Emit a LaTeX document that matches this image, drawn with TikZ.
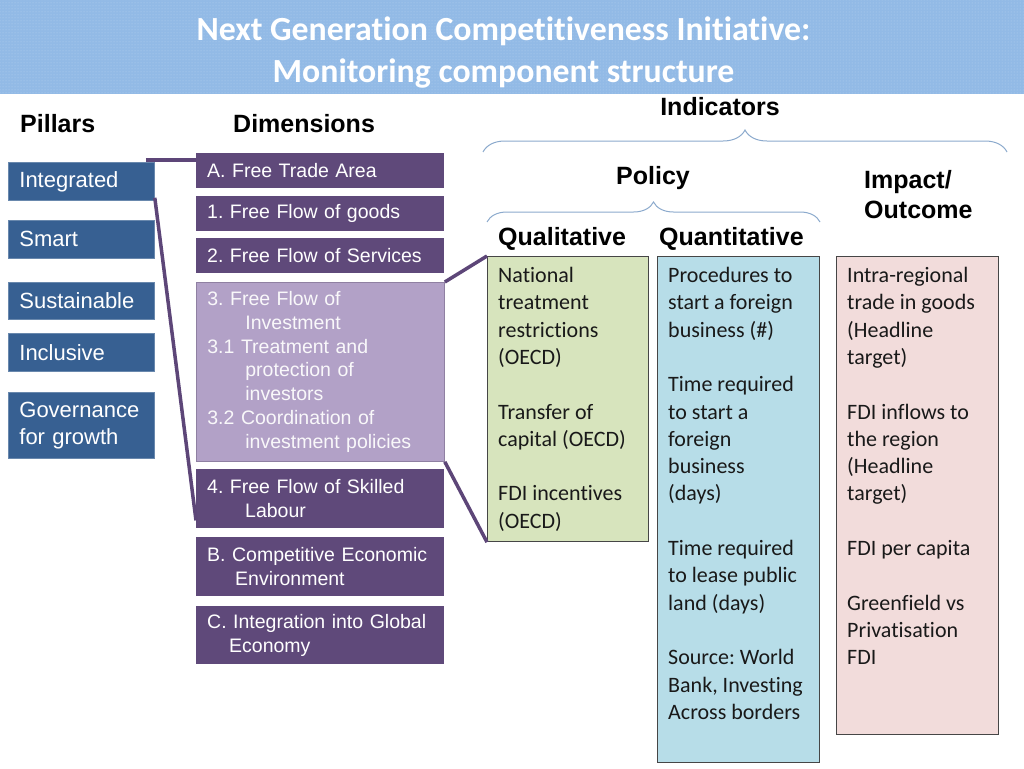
\documentclass[tikz,border=0pt]{standalone}
\usepackage{fontspec}
\setmainfont{Liberation Sans}
\newfontfamily\calibri[Ligatures=NoCommon]{Carlito}
\definecolor{BannerBlue}{RGB}{146,186,230}
\definecolor{PillarBlue}{RGB}{55,96,146}
\definecolor{DimPurple}{RGB}{95,73,122}
\definecolor{DimLilac}{RGB}{178,161,199}
\definecolor{LinkPurple}{RGB}{93,70,120}
\definecolor{QualGreen}{RGB}{215,228,189}
\definecolor{QuantBlue}{RGB}{183,221,232}
\definecolor{ImpactPink}{RGB}{242,220,219}
\definecolor{BraceGrey}{RGB}{140,170,205}
\definecolor{BoxEdge}{RGB}{70,70,70}
\definecolor{TextDark}{RGB}{25,25,25}
\usetikzlibrary{decorations.pathreplacing, patterns}

\begin{document}
\frenchspacing
\begin{tikzpicture}[x=1pt, y=-1pt,
    pillar/.style={anchor=north west, fill=PillarBlue, draw=PillarBlue!75!white, line width=0.8pt, text=white, inner xsep=11pt, inner ysep=0pt, text width=124pt, align=left, font=\fontsize{22}{27}\selectfont},
    dimbox/.style={anchor=north west, fill=DimPurple, text=white, inner xsep=11pt, inner ysep=0pt, text width=226pt, align=left, font=\fontsize{19.5}{23.8}\selectfont},
    colbox/.style={anchor=north west, draw=BoxEdge, line width=1.2pt, inner sep=0pt, minimum width=161pt},
    coltext/.style={anchor=base west, inner sep=0pt, align=left, text=TextDark, font=\calibri\fontsize{22}{27.3}\selectfont},
    heading/.style={inner sep=0pt, font=\bfseries\fontsize{25}{30}\selectfont},
    link/.style={draw=LinkPurple, line width=3.5pt},
    curly/.style={decorate, decoration={brace, amplitude=#1}, draw=BraceGrey, line width=1pt}]
        \useasboundingbox (0,0) rectangle (1024,768);
        \fill[white] (0,0) rectangle (1024,768);
        % title banner
        \fill[BannerBlue] (0,0) rectangle (1024,94);
        \fill[pattern=dots, pattern color=white, fill opacity=0.35] (0,0) rectangle (1024,94);
        % (base of a multi-line node = baseline of its last line)
        \node[anchor=base, align=center, text=white, font=\calibri\bfseries\fontsize{33.8}{42}\selectfont] (title) at (503.5,82) {Next Generation Competitiveness Initiative:\\Monitoring component structure};
        % column headings
        \node[heading, anchor=west] (hpillars) at (20,124) {Pillars};
        \node[heading, anchor=west] (hdims) at (233,124) {Dimensions};
        \node[heading, anchor=base] (hindic) at (720,115) {Indicators};
        \node[heading, anchor=base] (hpolicy) at (653,184) {Policy};
        \node[heading, anchor=base west, align=left] (himpact) at (864,218) {Impact/\\Outcome};
        \node[heading, anchor=base west] (hqual) at (498,245) {Qualitative};
        \node[heading, anchor=base west] (hquant) at (659,245) {Quantitative};
        % pillars
        \node[pillar, minimum height=38pt] (integ) at (8,162) {Integrated};
        \node[pillar, minimum height=38pt] (smart) at (8,220) {Smart};
        \node[pillar, minimum height=37pt] (sustain) at (8,282) {Sustainable};
        \node[pillar, minimum height=38pt] (inclus) at (8,333) {Inclusive};
        \node[pillar, minimum height=66pt] (govern) at (8,392) {Governance\\for growth};
        % dimensions
        \node[dimbox, minimum height=35pt] (dimA) at (196,153) {A. Free Trade Area};
        \node[dimbox, minimum height=35pt] (dim1) at (196,196) {1. Free Flow of goods};
        \node[dimbox, minimum height=35pt] (dim2) at (196,238) {2. Free Flow of Services};
        \node[dimbox, minimum height=179pt, fill=DimLilac, draw=DimPurple!70, line width=0.8pt, text=white!92!DimLilac] (dim3) at (196,282) {3. Free Flow of\\\hspace*{38pt}Investment\\3.1 Treatment and\\\hspace*{38pt}protection of\\\hspace*{38pt}investors\\3.2 Coordination of\\\hspace*{38pt}investment policies};
        \node[dimbox, minimum height=59pt] (dim4) at (196,469) {4. Free Flow of Skilled\\\hspace*{38pt}Labour};
        \node[dimbox, minimum height=59pt] (dimB) at (196,537) {B. Competitive Economic\\\hspace*{28pt}Environment};
        \node[dimbox, minimum height=58pt] (dimC) at (196,606) {C. Integration into Global\\\hspace*{22pt}Economy};
        % indicator boxes
        \node[colbox, fill=QualGreen, minimum height=285pt] (qual) at (487,256) {};
        \node[colbox, fill=QuantBlue, minimum width=162pt, minimum height=506pt] (quant) at (657,256) {};
        \node[colbox, fill=ImpactPink, minimum width=162pt, minimum height=478pt] (impact) at (836,256) {};
        \node[coltext] (qualtxt) at (498,528.2) {National\\treatment\\restrictions\\(OECD)\\[27.3pt]Transfer of\\capital (OECD)\\[27.3pt]FDI incentives\\(OECD)};
        \node[coltext] (quanttxt) at (668,719.3) {Procedures to\\start a foreign\\business (\#)\\[27.3pt]Time required\\to start a\\foreign\\business\\(days)\\[27.3pt]Time required\\to lease public\\land (days)\\[27.3pt]Source: World\\Bank, Investing\\Across borders};
        \node[coltext] (impacttxt) at (847,664.7) {Intra-regional\\trade in goods\\(Headline\\target)\\[27.3pt]FDI inflows to\\the region\\(Headline\\target)\\[27.3pt]FDI per capita\\[27.3pt]Greenfield vs\\Privatisation\\FDI};
        % braces
        \draw[curly=22pt] (483,152) -- (1007,152);
        \draw[curly=20pt] (487,222) -- (820,222);
        % links
        \draw[link] ([xshift=-9pt, yshift=2pt]integ.north east) -- ([yshift=-7pt]dimA.north west);
        \draw[link] ([yshift=3pt]integ.south east) -- ([yshift=8pt]dim4.south west);
        \draw[link] (dim3.north east) -- (qual.north west);
        \draw[link] (dim3.south east) -- (qual.south west);
\end{tikzpicture}
\end{document}
